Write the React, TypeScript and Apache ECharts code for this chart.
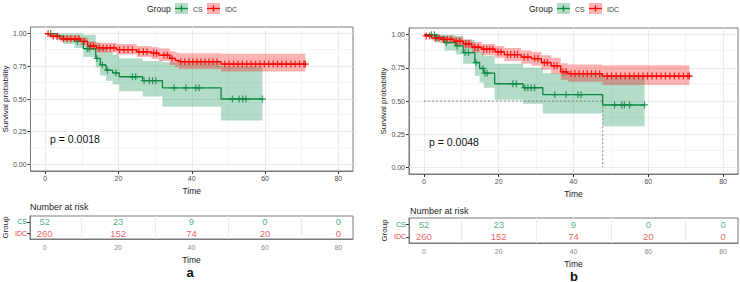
import React, { useEffect, useRef } from "react";
import * as echarts from "echarts";

// ---------- shared data ----------
const xTicks = [0, 20, 40, 60, 80];
const xMinor = [10, 30, 50, 70];
const yTicks = [0, 0.25, 0.5, 0.75, 1];
const yMinor = [0.125, 0.375, 0.625, 0.875];
const groups = ["IDC", "CS"];
const riskTimes = [0, 20, 40, 60, 80];
const riskCS = [52, 23, 9, 0, 0];
const riskIDC = [260, 152, 74, 20, 0];

// ---------- panel a ----------
const aCsTime = [0, 3, 5, 8, 10.4, 13.8, 15, 16.6, 18.4, 20.2, 26.6, 32, 48];
const aCsSurv = [1, 0.98, 0.96, 0.94, 0.885, 0.81, 0.76, 0.72, 0.7, 0.67, 0.64, 0.585, 0.5];
const aCsLower = [1, 0.95, 0.92, 0.89, 0.82, 0.74, 0.68, 0.64, 0.61, 0.56, 0.52, 0.44, 0.335];
const aCsUpper = [1, 1, 1, 1, 0.99, 0.93, 0.89, 0.86, 0.84, 0.81, 0.79, 0.78, 0.75];
const aCsEnd = 59.3;
const aCsCensor = [1.5, 8.8, 11.5, 12, 14.1, 15.6, 17, 19.3, 23.8, 24.7, 27, 28.4, 29.3, 30.2, 35.2, 38.4, 41.1, 42, 51.1, 52.9, 53.9, 54.8, 59.3];

const aIdcTime = [0, 1.3, 4, 9.6, 11.6, 14, 19.5, 25, 29, 31, 34, 35.5, 36.5, 48];
const aIdcSurv = [1, 0.98, 0.96, 0.94, 0.905, 0.89, 0.877, 0.86, 0.85, 0.835, 0.81, 0.795, 0.785, 0.767];
const aIdcLower = [1, 0.965, 0.94, 0.915, 0.875, 0.855, 0.84, 0.82, 0.805, 0.79, 0.76, 0.745, 0.73, 0.71];
const aIdcUpper = [1, 0.995, 0.985, 0.97, 0.94, 0.93, 0.92, 0.905, 0.895, 0.885, 0.865, 0.855, 0.85, 0.845];
const aIdcEnd = 71;
const aIdcCensor = [0.8, 2.2, 3.3, 5, 6, 7, 8.2, 9.2, 10.6, 12.4, 13.2, 14.8, 15.8, 16.8, 17.8, 18.8, 20.3, 21.5, 22.6, 23.8, 25.6, 26.8, 27.8, 29.6, 30.4, 32.4, 33.3, 34.6, 37, 38.1, 39.2, 40.3, 41.4, 42.5, 43.6, 44.7, 45.8, 46.9, 49, 50.2, 51.4, 52.6, 53.8, 55, 56.2, 57.4, 58.6, 59.8, 61, 62.2, 63.4, 64.6, 65.8, 67, 68.2, 69.4, 70.6, 71];
const aPValue = "p = 0.0018";

// ---------- panel b ----------
const bCsTime = [0, 3, 5.5, 8.5, 10.5, 13.6, 14.9, 16, 18.9, 26.5, 31.8, 47.8];
const bCsSurv = [1, 0.98, 0.94, 0.915, 0.865, 0.79, 0.745, 0.71, 0.63, 0.6, 0.548, 0.47];
const bCsLower = [1, 0.94, 0.88, 0.85, 0.78, 0.69, 0.64, 0.6, 0.51, 0.48, 0.405, 0.31];
const bCsUpper = [1, 1, 1, 0.99, 0.96, 0.91, 0.87, 0.84, 0.78, 0.75, 0.71, 0.69];
const bCsEnd = 59;
const bCsCensor = [2, 2.8, 3.4, 6, 8.9, 11, 11.9, 13.9, 15.8, 16.3, 16.9, 23.8, 24.7, 27, 27.8, 28.7, 29.6, 35, 38, 41.2, 42, 51, 52.9, 53.6, 55, 59];

const bIdcTime = [0, 0.5, 2, 4.5, 8, 10.5, 12.8, 15.5, 19, 21.5, 26, 28.8, 31.4, 34, 36.6, 38.5, 47.7];
const bIdcSurv = [1, 0.99, 0.975, 0.965, 0.95, 0.93, 0.905, 0.89, 0.87, 0.85, 0.83, 0.82, 0.79, 0.765, 0.72, 0.706, 0.688];
const bIdcLower = [1, 0.98, 0.955, 0.94, 0.92, 0.895, 0.865, 0.845, 0.825, 0.8, 0.78, 0.765, 0.735, 0.705, 0.66, 0.645, 0.62];
const bIdcUpper = [1, 1, 0.995, 0.99, 0.98, 0.965, 0.945, 0.93, 0.915, 0.9, 0.88, 0.87, 0.845, 0.825, 0.785, 0.775, 0.77];
const bIdcEnd = 71;
const bIdcCensor = [0.6, 1.5, 3, 4, 5.2, 6.2, 7.2, 8.6, 9.6, 11.2, 12, 13.6, 14.5, 16, 16.8, 17.6, 18.4, 19.8, 20.6, 22.3, 23.2, 24.2, 25, 26.8, 27.8, 29.6, 30.5, 32.2, 33, 34.8, 35.6, 37.2, 38, 39.3, 40.4, 41.5, 42.6, 43.7, 44.8, 45.9, 47, 49, 50.2, 51.4, 52.6, 53.8, 55, 56.2, 57.4, 58.6, 59.8, 61, 62.2, 63.4, 64.6, 65.8, 67, 68.2, 69.4, 70.6, 71];
const bMedianCS = 47.8;
const bPValue = "p = 0.0048";

// ---------- styles ----------
const FONT = "Liberation Sans, Arial, sans-serif";
const GREEN = "#0b8a42";
const GREEN_BAND = "rgba(0,139,69,0.3)";
const RED = "#ff0000";
const RED_BAND = "rgba(255,0,0,0.3)";
const GREEN_TXT = "#1f9e5e";
const RED_TXT = "#ee3636";
const BORDER = "#7a7a7a";
const GRIDC = "#ebebeb";
const PLUS = "path://M0,4.1H4.1V0H5.9V4.1H10V5.9H5.9V10H4.1V5.9H0Z";

function stepAt(times: number[], vals: number[], t: number) {
  let v = vals[0];
  for (let i = 0; i < times.length; i++) if (times[i] <= t) v = vals[i];
  return v;
}

function gridLineSeries(xi: number, withY: boolean) {
  const data: any[] = [];
  if (withY) {
    xTicks.forEach((v) => data.push({ xAxis: v, lineStyle: { color: GRIDC, width: 1, type: "solid" } }));
    yTicks.forEach((v) => data.push({ yAxis: v, lineStyle: { color: GRIDC, width: 1, type: "solid" } }));
    yMinor.forEach((v) => data.push({ yAxis: v, lineStyle: { color: GRIDC, width: 0.5, type: "solid" } }));
  }
  xMinor.forEach((v) => data.push({ xAxis: v, lineStyle: { color: GRIDC, width: withY ? 0.5 : 1, type: "solid" } }));
  return {
    type: "line",
    xAxisIndex: xi,
    yAxisIndex: xi,
    data: [],
    silent: true,
    markLine: { silent: true, symbol: "none", z: 1, label: { show: false }, emphasis: { disabled: true }, data },
  };
}

function bandSeries(xi: number, time: number[], lower: number[], upper: number[], end: number, color: string) {
  const T = [...time, end];
  const n = time.length;
  return {
    type: "custom",
    xAxisIndex: xi,
    yAxisIndex: xi,
    silent: true,
    z: 2,
    clip: true,
    encode: { x: 0, y: [1, 2] },
    data: time.map((t, i) => [t, lower[i], upper[i]]),
    renderItem: (params: any, api: any) => {
      if (params.dataIndex !== 0) return null;
      const pts: number[][] = [];
      for (let i = 0; i < n; i++) {
        pts.push(api.coord([T[i], upper[i]]));
        pts.push(api.coord([T[i + 1], upper[i]]));
      }
      for (let i = n - 1; i >= 0; i--) {
        pts.push(api.coord([T[i + 1], lower[i]]));
        pts.push(api.coord([T[i], lower[i]]));
      }
      return { type: "polygon", shape: { points: pts }, style: { fill: color, stroke: "none" }, silent: true };
    },
  };
}

function curveSeries(xi: number, time: number[], surv: number[], end: number, color: string) {
  const T = [...time, end];
  const S = [...surv, surv[surv.length - 1]];
  return {
    type: "line", xAxisIndex: xi, yAxisIndex: xi, step: "end", symbol: "none", silent: true,
    lineStyle: { color, width: 1.3 }, data: T.map((t, i) => [t, S[i]]), z: 3,
  };
}

function censorSeries(xi: number, censor: number[], time: number[], surv: number[], color: string) {
  return {
    type: "scatter", xAxisIndex: xi, yAxisIndex: xi, symbol: PLUS, symbolSize: 7, silent: true,
    itemStyle: { color }, data: censor.map((t) => [t, stepAt(time, surv, t)]), z: 4,
  };
}

function riskSeries(xi: number) {
  const mk = (vals: number[], g: string, color: string) => ({
    type: "scatter", xAxisIndex: xi, yAxisIndex: xi, symbolSize: 0.1, silent: true,
    itemStyle: { color: "transparent" },
    label: { show: true, position: "inside", formatter: (p: any) => String(p.value[2]), color, fontSize: 9.5, fontFamily: FONT },
    data: riskTimes.map((t, i) => [t, g, vals[i]]), z: 4,
  });
  return [mk(riskCS, "CS", GREEN_TXT), mk(riskIDC, "IDC", RED_TXT)];
}

function plotAxes(gi: number) {
  const x = {
    type: "value", gridIndex: gi, min: -4, max: 84,
    splitLine: { show: false },
    axisLine: { show: true, onZero: false, lineStyle: { color: BORDER, width: 1 } },
    axisTick: { show: true, customValues: xTicks, length: 3, lineStyle: { color: "#333" } },
    axisLabel: { customValues: xTicks, fontSize: 7, color: "#4d4d4d", margin: 4, fontFamily: FONT },
    name: "Time", nameLocation: "middle", nameGap: 15,
    nameTextStyle: { fontSize: 8.5, color: "#222", fontFamily: FONT },
  };
  const y = {
    type: "value", gridIndex: gi, min: -0.05, max: 1.05,
    splitLine: { show: false },
    axisLine: { show: true, onZero: false, lineStyle: { color: BORDER, width: 1 } },
    axisTick: { show: true, customValues: yTicks, length: 3, lineStyle: { color: "#333" } },
    axisLabel: { customValues: yTicks, fontSize: 7, color: "#4d4d4d", margin: 4, fontFamily: FONT, formatter: (v: number) => v.toFixed(2) },
    name: "Survival probability", nameLocation: "middle", nameGap: 21, nameRotate: 90,
    nameTextStyle: { fontSize: 8, color: "#222", fontFamily: FONT },
  };
  return { x, y };
}

function tableAxes(gi: number) {
  const x = {
    type: "value", gridIndex: gi, min: -4, max: 84,
    splitLine: { show: false },
    axisLine: { show: true, onZero: false, lineStyle: { color: BORDER, width: 1 } },
    axisTick: { show: false, customValues: xTicks },
    axisLabel: { customValues: xTicks, fontSize: 7, color: "#888", margin: 5, fontFamily: FONT },
    name: "Time", nameLocation: "middle", nameGap: 16,
    nameTextStyle: { fontSize: 8.5, color: "#222", fontFamily: FONT },
  };
  const y = {
    type: "category", gridIndex: gi, data: groups,
    axisLine: { show: true, onZero: false, lineStyle: { color: BORDER, width: 1 } },
    axisTick: { show: true, alignWithLabel: true, length: 3, lineStyle: { color: "#333" } },
    axisLabel: {
      fontSize: 7, margin: 3, fontFamily: FONT,
      color: (v: string) => (v === "CS" ? GREEN_TXT : RED_TXT),
    },
    splitLine: { show: false },
    name: "Group", nameLocation: "middle", nameGap: 21, nameRotate: 90,
    nameTextStyle: { fontSize: 8, color: "#222", fontFamily: FONT },
  };
  return { x, y };
}

function legendGraphic(x0: number) {
  const key = (x: number, fill: string, line: string) => [
    { type: "rect", shape: { x, y: 3, width: 13, height: 11 }, style: { fill } },
    { type: "line", shape: { x1: x, y1: 8.5, x2: x + 13, y2: 8.5 }, style: { stroke: line, lineWidth: 1.3 } },
    { type: "line", shape: { x1: x + 6.5, y1: 5.5, x2: x + 6.5, y2: 11.5 }, style: { stroke: line, lineWidth: 1.3 } },
  ];
  return [
    { type: "text", x: x0, y: 9, style: { text: "Group", fill: "#222", font: `8.5px ${FONT}`, verticalAlign: "middle" } },
    ...key(x0 + 28, GREEN_BAND, GREEN),
    { type: "text", x: x0 + 46, y: 9, style: { text: "CS", fill: "#444", font: `7px ${FONT}`, verticalAlign: "middle" } },
    ...key(x0 + 60, RED_BAND, RED),
    { type: "text", x: x0 + 78, y: 9, style: { text: "IDC", fill: "#444", font: `7px ${FONT}`, verticalAlign: "middle" } },
  ];
}

export default function App() {
  const ref = useRef<HTMLDivElement>(null);
  useEffect(() => {
    document.body.style.margin = "0";
    if (!ref.current) return;
    const chart = echarts.init(ref.current, undefined, { renderer: "svg" });
    const pa = plotAxes(0), ta = tableAxes(1), pb = plotAxes(2), tb = tableAxes(3);
    const option: any = {
      animation: false,
      backgroundColor: "#ffffff",
      textStyle: { fontFamily: FONT },
      grid: [
        { left: 30, top: 27, width: 323, height: 144, show: true, borderColor: BORDER, borderWidth: 1, backgroundColor: "#fff", containLabel: false },
        { left: 30, top: 216, width: 323, height: 23, show: true, borderColor: BORDER, borderWidth: 1, backgroundColor: "#fff", containLabel: false },
        { left: 409, top: 28, width: 329, height: 146, show: true, borderColor: BORDER, borderWidth: 1, backgroundColor: "#fff", containLabel: false },
        { left: 409, top: 218, width: 329, height: 25, show: true, borderColor: BORDER, borderWidth: 1, backgroundColor: "#fff", containLabel: false },
      ],
      xAxis: [pa.x, ta.x, pb.x, tb.x],
      yAxis: [pa.y, ta.y, pb.y, tb.y],
      series: [
        gridLineSeries(0, true),
        gridLineSeries(1, false),
        gridLineSeries(2, true),
        gridLineSeries(3, false),
        // panel a
        bandSeries(0, aCsTime, aCsLower, aCsUpper, aCsEnd, GREEN_BAND),
        bandSeries(0, aIdcTime, aIdcLower, aIdcUpper, aIdcEnd, RED_BAND),
        curveSeries(0, aCsTime, aCsSurv, aCsEnd, GREEN),
        curveSeries(0, aIdcTime, aIdcSurv, aIdcEnd, RED),
        censorSeries(0, aCsCensor, aCsTime, aCsSurv, GREEN),
        censorSeries(0, aIdcCensor, aIdcTime, aIdcSurv, RED),
        ...riskSeries(1),
        // panel b
        bandSeries(2, bCsTime, bCsLower, bCsUpper, bCsEnd, GREEN_BAND),
        bandSeries(2, bIdcTime, bIdcLower, bIdcUpper, bIdcEnd, RED_BAND),
        {
          type: "line", xAxisIndex: 2, yAxisIndex: 2, symbol: "none", silent: true, z: 2,
          lineStyle: { color: "#888", width: 1, type: [2, 2] },
          data: [[0, 0.5], [bMedianCS, 0.5], [bMedianCS, 0]],
        },
        curveSeries(2, bCsTime, bCsSurv, bCsEnd, GREEN),
        curveSeries(2, bIdcTime, bIdcSurv, bIdcEnd, RED),
        censorSeries(2, bCsCensor, bCsTime, bCsSurv, GREEN),
        censorSeries(2, bIdcCensor, bIdcTime, bIdcSurv, RED),
        ...riskSeries(3),
      ],
      graphic: [
        ...legendGraphic(147),
        ...legendGraphic(529),
        { type: "text", x: 50, y: 139, style: { text: aPValue, font: `10.5px ${FONT}`, fill: "#111", verticalAlign: "middle" } },
        { type: "text", x: 429, y: 142, style: { text: bPValue, font: `10.5px ${FONT}`, fill: "#111", verticalAlign: "middle" } },
        { type: "text", x: 30, y: 207, style: { text: "Number at risk", font: `9px ${FONT}`, fill: "#222", verticalAlign: "middle" } },
        { type: "text", x: 410, y: 211, style: { text: "Number at risk", font: `9px ${FONT}`, fill: "#222", verticalAlign: "middle" } },
        { type: "text", x: 190, y: 272, style: { text: "a", font: `bold 13px ${FONT}`, fill: "#111", align: "center", verticalAlign: "middle" } },
        { type: "text", x: 574, y: 276, style: { text: "b", font: `bold 13px ${FONT}`, fill: "#111", align: "center", verticalAlign: "middle" } },
      ],
    };
    chart.setOption(option);
    return () => chart.dispose();
  }, []);
  return <div ref={ref} style={{ width: 740, height: 282 }} />;
}
